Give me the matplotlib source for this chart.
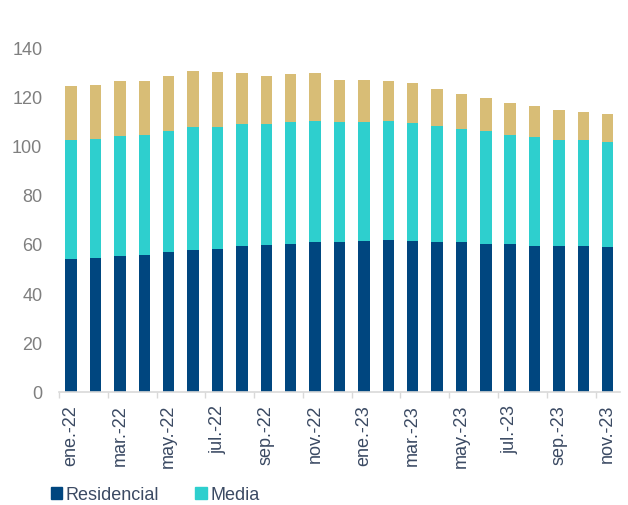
import numpy as np
import matplotlib
matplotlib.use("Agg")
import matplotlib.pyplot as plt
from matplotlib.patches import Patch

plt.rcParams['font.family'] = ['Liberation Sans', 'DejaVu Sans']

# --- datos ---
meses = ['ene.-22', 'feb.-22', 'mar.-22', 'abr.-22', 'may.-22', 'jun.-22',
         'jul.-22', 'ago.-22', 'sep.-22', 'oct.-22', 'nov.-22', 'dic.-22',
         'ene.-23', 'feb.-23', 'mar.-23', 'abr.-23', 'may.-23', 'jun.-23',
         'jul.-23', 'ago.-23', 'sep.-23', 'oct.-23', 'nov.-23']
residencial = [53.9, 54.4, 55.0, 55.5, 56.6, 57.5, 58.1, 59.2, 59.6, 60.1, 60.7, 60.7,
               61.2, 61.7, 61.2, 60.7, 60.7, 60.1, 60.1, 59.2, 59.2, 59.2, 58.6]
media = [48.4, 48.4, 48.9, 49.0, 49.5, 50.1, 49.5, 49.5, 49.1, 49.5, 49.5, 48.9,
         48.4, 48.5, 48.0, 47.4, 45.9, 46.0, 44.4, 44.3, 43.2, 43.2, 42.8]
alta = [21.9, 22.0, 22.4, 21.8, 22.4, 22.9, 22.4, 20.7, 19.8, 19.4, 19.2, 17.3,
        17.3, 16.1, 16.2, 15.1, 14.6, 13.4, 13.0, 12.5, 12.0, 11.4, 11.4]
etiquetas = meses[::2]

col_res = '#00467F'
col_med = '#2ECFCE'
col_alta = '#D8BD76'

x = np.arange(len(meses))
res = np.array(residencial)
med = np.array(media)
alt = np.array(alta)

fig = plt.figure(figsize=(6.28, 5.06), dpi=100)
ax = fig.add_axes([0.0939, 0.2243, 0.8933, 0.6802])

w = 0.47
ax.bar(x, res, width=w, color=col_res, zorder=2)
ax.bar(x, med, width=w, bottom=res, color=col_med, zorder=2)
ax.bar(x, alt, width=w, bottom=res + med, color=col_alta, zorder=2)

ax.set_xlim(-0.5, len(meses) - 0.5)
ax.set_ylim(0, 140)
ax.set_yticks(np.arange(0, 141, 20))
ax.tick_params(axis='y', length=0, pad=12, labelsize=13, labelcolor='#7F7F7F')

ax.set_xticks(x[::2])
ax.set_xticklabels(etiquetas, rotation=90, fontsize=13, color='#3B4A63')
ax.set_xticks(np.arange(-0.5, len(meses) - 1, 2), minor=True)
ax.tick_params(axis='x', which='major', length=0, pad=9)
ax.tick_params(axis='x', which='minor', length=4.5, width=1, color='#D9D9D9')

for s in ['top', 'right', 'left']:
    ax.spines[s].set_visible(False)
ax.spines['bottom'].set_color('#D9D9D9')
ax.spines['bottom'].set_linewidth(1.2)

handles = [Patch(color=col_res, label='Residencial'),
           Patch(color=col_med, label='Media')]
leg = fig.legend(handles=handles, loc='center left', bbox_to_anchor=(51 / 628, 10 / 506),
                 ncol=2, frameon=False, fontsize=13, borderpad=0, borderaxespad=0,
                 handlelength=0.62, handleheight=0.62, handletextpad=0.2, columnspacing=2.0)
for t in leg.get_texts():
    t.set_color('#3B4A63')

fig.savefig('out.png', dpi=100)
